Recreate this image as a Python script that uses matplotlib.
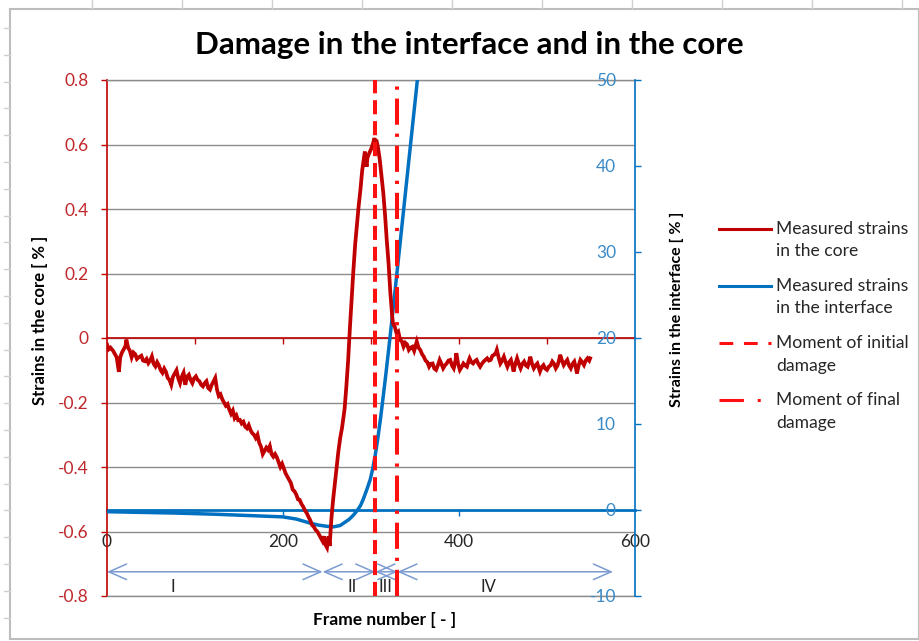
import numpy as np
import matplotlib
matplotlib.use('Agg')
import matplotlib.pyplot as plt
from matplotlib.lines import Line2D
from matplotlib.patches import Rectangle
from matplotlib.legend_handler import HandlerLine2D

plt.rcParams['font.family'] = ['Lato', 'DejaVu Sans']
plt.rcParams['axes.unicode_minus'] = False

# ---------------- data ----------------
core_frames = [0, 2, 4, 7, 9, 11, 13.5, 15, 17, 19, 21, 22, 24, 26, 28, 30, 32, 34, 36, 39,
               41, 43, 45, 47, 49, 51, 53, 55, 57, 59, 61, 63, 65, 67, 69, 71, 73, 75, 77, 79,
               81, 83, 85, 87, 89, 91, 93, 95, 97, 99, 101, 103, 105, 107, 109, 111, 113, 115, 117, 119,
               121, 123, 125, 127, 129, 131, 133, 135, 137, 139, 141, 143, 145, 147, 149, 151, 153, 155, 157, 159,
               161, 163, 165, 167, 169, 171, 173, 175, 177, 179, 181, 183, 185, 187, 189, 191, 193, 195, 197, 199,
               201, 203, 205, 207, 209, 211, 213, 215, 217, 219, 221, 223, 225, 227, 229, 231, 233, 235, 237, 239,
               241, 243, 245, 247, 248, 250, 251, 252, 253, 254, 255, 257, 259, 261, 263, 265, 267, 270, 272, 274,
               276, 278, 280, 282, 284, 286, 288, 290, 292, 293, 294, 295, 296, 298, 300, 302, 304, 305, 306, 308,
               310, 312, 314, 316, 318, 320, 322, 324, 325, 327, 329, 331, 333, 335, 337, 339, 341, 343, 345, 347,
               349, 351, 352, 354, 356, 358, 360, 362, 364, 366, 368, 370, 372, 374, 376, 378, 380, 382, 384, 386,
               388, 390, 392, 394, 396, 397, 399, 401, 403, 405, 407, 409, 411, 412, 414, 416, 418, 420, 422, 424,
               426, 428, 430, 432, 434, 436, 438, 440, 442, 443, 445, 447, 449, 451, 453, 455, 457, 459, 461, 462,
               464, 466, 468, 470, 472, 474, 476, 478, 480, 481, 483, 485, 487, 489, 491, 492, 494, 496, 498, 500,
               502, 504, 506, 508, 510, 512, 514, 515, 517, 519, 521, 523, 525, 527, 529, 531, 533, 534, 536, 538,
               540, 542, 544, 546, 548, 549]
core_strain = [-0.02, -0.035, -0.03, -0.04, -0.05, -0.06, -0.105, -0.06, -0.045, -0.035, -0.025, -0.005, -0.03, -0.04, -0.06, -0.045, -0.05, -0.065, -0.06, -0.055,
               -0.07, -0.072, -0.065, -0.078, -0.07, -0.057, -0.08, -0.088, -0.075, -0.085, -0.1, -0.108, -0.095, -0.105, -0.124, -0.13, -0.145, -0.12, -0.11, -0.1,
               -0.125, -0.14, -0.12, -0.108, -0.145, -0.12, -0.114, -0.13, -0.14, -0.125, -0.119, -0.13, -0.134, -0.145, -0.15, -0.14, -0.134, -0.155, -0.16, -0.145,
               -0.135, -0.124, -0.16, -0.18, -0.175, -0.19, -0.2, -0.21, -0.205, -0.222, -0.235, -0.225, -0.248, -0.24, -0.255, -0.254, -0.265, -0.26, -0.275, -0.28,
               -0.27, -0.285, -0.295, -0.3, -0.31, -0.3, -0.325, -0.337, -0.36, -0.35, -0.34, -0.347, -0.335, -0.36, -0.368, -0.36, -0.37, -0.385, -0.4, -0.39,
               -0.405, -0.42, -0.43, -0.44, -0.45, -0.47, -0.475, -0.485, -0.5, -0.502, -0.515, -0.523, -0.535, -0.543, -0.555, -0.565, -0.58, -0.585, -0.595, -0.6,
               -0.61, -0.62, -0.63, -0.615, -0.64, -0.65, -0.63, -0.615, -0.645, -0.6, -0.56, -0.5, -0.45, -0.4, -0.35, -0.31, -0.28, -0.22, -0.15, -0.07,
               0.03, 0.12, 0.21, 0.29, 0.35, 0.41, 0.46, 0.52, 0.56, 0.578, 0.55, 0.531, 0.56, 0.573, 0.585, 0.6, 0.62, 0.6, 0.615, 0.59,
               0.552, 0.5, 0.449, 0.38, 0.3, 0.23, 0.14, 0.07, 0.045, 0.035, 0.015, 0.02, -0.006, -0.01, -0.027, -0.015, -0.02, -0.037, -0.03, -0.027,
               -0.04, -0.02, -0.011, -0.03, -0.037, -0.05, -0.058, -0.07, -0.075, -0.089, -0.08, -0.079, -0.095, -0.099, -0.085, -0.068, -0.08, -0.094, -0.085, -0.079,
               -0.07, -0.068, -0.085, -0.094, -0.07, -0.047, -0.08, -0.099, -0.09, -0.079, -0.085, -0.089, -0.07, -0.063, -0.075, -0.079, -0.072, -0.068, -0.08, -0.089,
               -0.08, -0.073, -0.068, -0.063, -0.07, -0.068, -0.055, -0.052, -0.045, -0.037, -0.06, -0.079, -0.07, -0.058, -0.075, -0.089, -0.075, -0.068, -0.09, -0.104,
               -0.08, -0.063, -0.08, -0.094, -0.08, -0.073, -0.085, -0.089, -0.07, -0.058, -0.08, -0.094, -0.085, -0.079, -0.095, -0.104, -0.09, -0.084, -0.095, -0.099,
               -0.089, -0.085, -0.073, -0.08, -0.094, -0.085, -0.065, -0.052, -0.07, -0.084, -0.075, -0.068, -0.085, -0.094, -0.08, -0.073, -0.095, -0.11, -0.085, -0.068,
               -0.075, -0.084, -0.07, -0.063, -0.07, -0.063]

iface_frames = [0, 25, 50, 75, 100, 125, 150, 175, 200, 215, 230, 240, 250, 258, 265, 270, 275, 280, 284, 288,
                291, 295, 299, 302, 305, 308, 311, 314, 317, 320, 323, 326, 329, 332, 335, 338, 341, 344, 347, 350,
                353, 356]
iface_strain = [-0.2, -0.25, -0.3, -0.35, -0.42, -0.5, -0.6, -0.7, -0.8, -1.05, -1.5, -1.75, -1.9, -1.95, -1.8, -1.45, -1.1, -0.6, -0.1, 0.5,
                1.2, 2.3, 3.5, 4.8, 6.5, 8.5, 10.8, 13.3, 15.9, 18.6, 21.4, 24.2, 27.1, 30.0, 32.9, 35.8, 38.7, 41.6, 44.5, 47.4,
                50.3, 53.2]

initial_damage = 305
final_damage = 330

phase_bounds = [0, 245, 305, 330, 575]
phase_names = ['I', 'II', 'III', 'IV']
phase_label_x = [75, 278, 316, 433]

core_ticks = [-0.8, -0.6, -0.4, -0.2, 0, 0.2, 0.4, 0.6, 0.8]
core_tick_labels = ['-0.8', '-0.6', '-0.4', '-0.2', '0', '0.2', '0.4', '0.6', '0.8']
iface_ticks = [-10, 0, 10, 20, 30, 40, 50]
frame_ticks = [0, 200, 400, 600]
frame_minor_ticks = [100, 200, 300, 400, 500]

# ---------------- style ----------------
CORE = '#C00000'
CORE_TXT = '#C0282D'
IFACE = '#0070C0'
IFACE_TXT = '#3A8AC8'
DMG = '#FF1010'
GRID = '#8C8C8C'
ARROW = '#7B9BD1'
TXT = '#262626'

W, H = 920, 641
fig = plt.figure(figsize=(W / 100, H / 100), dpi=100)
fig.patch.set_facecolor('white')

ax = fig.add_axes([107 / W, 45 / H, (635 - 107) / W, (596 - 80) / H])
ax2 = ax.twinx()
ax.patch.set_visible(False)

ax.set_xlim(0, 600)
ax.set_ylim(-0.8, 0.8)
ax2.set_ylim(-10, 50)

# grid
ax.set_yticks(core_ticks)
ax.set_yticklabels(core_tick_labels)
ax.yaxis.grid(True, color=GRID, lw=1)
ax.set_axisbelow(True)
ax.tick_params(axis='x', bottom=False, labelbottom=False, top=False)
ax.tick_params(axis='y', direction='out', length=4.5, width=1, color=CORE,
               labelcolor=CORE_TXT, labelsize=12.5, pad=8.5)
ax.spines['left'].set_color(CORE)
ax.spines['left'].set_linewidth(1.2)
ax.spines['right'].set_visible(False)
for s in ('top', 'bottom'):
    ax.spines[s].set_color(GRID)
    ax.spines[s].set_linewidth(1)

for s in ('top', 'bottom', 'left'):
    ax2.spines[s].set_visible(False)
ax2.spines['right'].set_color(IFACE)
ax2.spines['right'].set_linewidth(1.2)
ax2.set_yticks(iface_ticks)
ax2.set_yticklabels([str(t) for t in iface_ticks])
ax2.tick_params(axis='y', direction='out', length=4, width=1, color=IFACE,
                labelcolor=IFACE_TXT, labelsize=12.5, pad=-17.7)
for lbl in ax2.get_yticklabels():
    lbl.set_horizontalalignment('right')

# zero line of core axis (red) with ticks
sec_core = ax.secondary_xaxis(0, transform=ax.transData)
sec_core.set_xticks(frame_minor_ticks)
sec_core.tick_params(axis='x', direction='out', length=4, width=1, color=CORE, labelbottom=False)
sec_core.spines['bottom'].set_color(CORE)
sec_core.spines['bottom'].set_linewidth(1.2)
sec_core.spines['top'].set_visible(False)
sec_core.set_zorder(1.5)

# zero line of interface axis (blue) with ticks
sec_if = ax.secondary_xaxis(0, transform=ax2.transData)
sec_if.set_xticks(frame_ticks[1:3])
sec_if.tick_params(axis='x', direction='out', length=4, width=1, color=IFACE, labelbottom=False)
sec_if.spines['bottom'].set_color(IFACE)
sec_if.spines['bottom'].set_linewidth(2)
sec_if.spines['top'].set_visible(False)
sec_if.set_zorder(1.6)

# frame tick labels
sec_lab = ax.secondary_xaxis(-0.6, transform=ax.transData)
sec_lab.set_xticks(frame_ticks)
sec_lab.set_xticklabels([str(t) for t in frame_ticks])
sec_lab.tick_params(axis='x', length=0, labelsize=12.5, labelcolor=TXT, pad=1.5)
for s in ('top', 'bottom'):
    sec_lab.spines[s].set_visible(False)

# curves
ax.plot(iface_frames, iface_strain, transform=ax2.transData, color=IFACE, lw=2.5,
        zorder=3, solid_capstyle='round')
ax.plot(core_frames, core_strain, color=CORE, lw=2.7, zorder=4, solid_joinstyle='miter')

ax.axvline(initial_damage, color=DMG, lw=2.9, linestyle=(0, (3.5, 1.7)), zorder=5)
ax.axvline(final_damage, color=DMG, lw=2.9, linestyle=(0, (6.5, 2.2, 0.8, 2.2)), zorder=5)

# phase arrows
arrow_y = -0.725
for a, b in zip(phase_bounds[:-1], phase_bounds[1:]):
    ax.annotate('', xy=(b, arrow_y), xytext=(a, arrow_y),
                arrowprops=dict(arrowstyle='<->,head_length=0.75,head_width=0.33',
                                color=ARROW, lw=1.1, shrinkA=0, shrinkB=0,
                                mutation_scale=17), zorder=2)
for name, xx in zip(phase_names, phase_label_x):
    ax.text(xx, -0.772, name, ha='center', va='center', fontsize=12, color=TXT)


# legend: handle aligned with the first text line
class FirstLineHandler(HandlerLine2D):
    def __init__(self, shift, **kw):
        super().__init__(**kw)
        self.shift = shift

    def create_artists(self, legend, orig_handle, xdescent, ydescent, width, height,
                       fontsize, trans):
        arts = super().create_artists(legend, orig_handle, xdescent, ydescent, width,
                                      height, fontsize, trans)
        for a in arts:
            a.set_ydata(np.asarray(a.get_ydata(), dtype=float) + self.shift)
        return arts


handles = [Line2D([], [], color=CORE, lw=2.2),
           Line2D([], [], color=IFACE, lw=2.2),
           Line2D([], [], color=DMG, lw=2.2, linestyle=(0, (4.5, 3.5))),
           Line2D([], [], color=DMG, lw=2.2, linestyle=(0, (8, 4.5, 1, 10)))]
labels = ['Measured strains\nin the core', 'Measured strains\nin the interface',
          'Moment of initial\ndamage', 'Moment of final\ndamage']
leg = fig.legend(handles, labels, loc='upper left', bbox_to_anchor=(719 / W, 1 - 221 / H),
                 frameon=False, fontsize=12.6, handlelength=2.95, handletextpad=0.3,
                 borderpad=0, borderaxespad=0, labelspacing=1.07,
                 handler_map={Line2D: FirstLineHandler(8.3)})
for t in leg.get_texts():
    t.set_color(TXT)
    t.set_linespacing(1.49)

# titles and labels
fig.text(469 / W, 1 - 45 / H, 'Damage in the interface and in the core', ha='center',
         va='center', fontsize=22.5, fontweight='bold', color='black')
fig.text(40 / W, 1 - 320 / H, 'Strains in the core [ % ]', rotation=90, ha='center',
         va='center', fontsize=12, fontweight='bold', color='black')
fig.text(677 / W, 1 - 309 / H, 'Strains in the interface [ % ]', rotation=90, ha='center',
         va='center', fontsize=11.5, fontweight='bold', color='black')
fig.text(385 / W, 1 - 620 / H, 'Frame number [ - ]', ha='center', va='center',
         fontsize=12.5, fontweight='bold', color='black')

# chart border (spreadsheet frame)
fig.add_artist(Rectangle((10 / W, 2 / H), (919 - 10) / W, (632 - 2) / H, fill=False,
                         edgecolor='#BDBDBD', lw=1.5, transform=fig.transFigure))
for xp in range(92, 920, 90):
    fig.add_artist(Line2D([xp / W, xp / W], [1 - 9 / H, 1.0], color='#D0D0D0', lw=1,
                          transform=fig.transFigure))
for yp in np.arange(28, 640, 26.8):
    fig.add_artist(Line2D([4 / W, 10 / W], [1 - yp / H, 1 - yp / H], color='#D0D0D0', lw=1,
                          transform=fig.transFigure))

fig.savefig('out.png', dpi=100, facecolor='white')
